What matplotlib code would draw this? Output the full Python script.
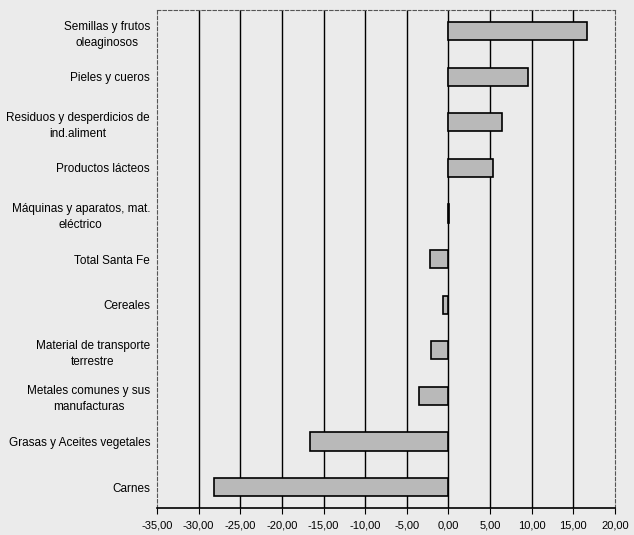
# libraries
import matplotlib.pyplot as plt

# data (top to bottom as in the chart)
categories = ['Semillas y frutos\noleaginosos', 'Pieles y cueros',
              'Residuos y desperdicios de\nind.aliment', 'Productos lácteos',
              'Máquinas y aparatos, mat.\neléctrico', 'Total Santa Fe', 'Cereales',
              'Material de transporte\nterrestre', 'Metales comunes y sus\nmanufacturas',
              'Grasas y Aceites vegetales', 'Carnes']
values = [16.7, 9.5, 6.4, 5.3, 0.1, -2.2, -0.6, -2.1, -3.5, -16.6, -28.2]
xticks = [-35, -30, -25, -20, -15, -10, -5, 0, 5, 10, 15, 20]

plt.rcParams['font.family'] = ['Liberation Sans', 'DejaVu Sans']
bg = '#ebebeb'

fig = plt.figure(figsize=(6.34, 5.35), dpi=100, facecolor=bg)
ax = fig.add_axes([0.2476, 0.0505, 0.7224, 0.9305], facecolor=bg)

ypos = list(range(len(categories)))[::-1]
for x in xticks[1:-1]:
    ax.axvline(x, color='black', lw=1.0, zorder=1)
ax.barh(ypos, values, height=0.4, color='#b9b9b9', edgecolor='black', lw=1.2, zorder=2)

ax.set_xlim(-35, 20)
ax.set_ylim(-0.46, 10.46)
ax.set_xticks(xticks)
ax.set_xticklabels([('%.2f' % v).replace('.', ',') for v in xticks])
ax.tick_params(axis='x', labelsize=8, length=4, direction='out', pad=5)
ax.set_yticks(ypos)
ax.set_yticklabels(categories, fontsize=8.5)
for lbl in ax.get_yticklabels():
    lbl.set_multialignment('center')
    lbl.set_linespacing(1.45)
ax.tick_params(axis='y', length=0, pad=5)

for side in ['left', 'top', 'right']:
    ax.spines[side].set_color('#555555')
    ax.spines[side].set_linestyle((0, (3, 2)))
    ax.spines[side].set_linewidth(0.8)
ax.spines['bottom'].set_linewidth(1.2)

plt.savefig('out.png', dpi=100, facecolor=bg)
